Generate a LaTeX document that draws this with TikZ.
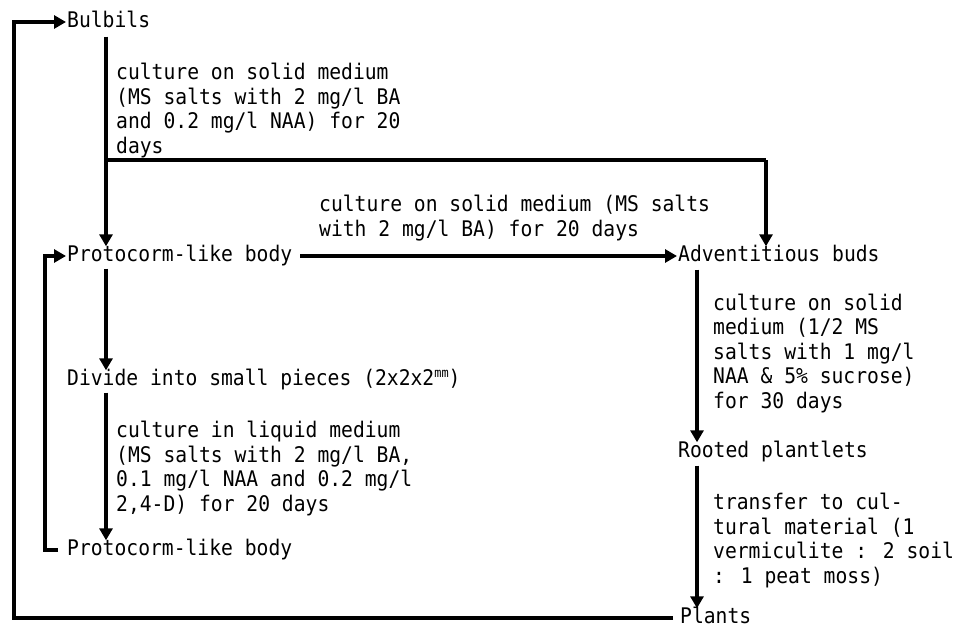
\documentclass[tikz,border=0pt]{standalone}
\usepackage{fontspec}
\newfontfamily\tw[FakeStretch=0.915]{DejaVu Sans Mono}
\usetikzlibrary{arrows.meta}
\begin{document}
\begin{tikzpicture}[x=1pt,y=-1pt,
  txt/.style={anchor=west, inner sep=0pt, text height=15pt, text depth=4pt,
    font=\tw\fontsize{21.5}{24.5}\selectfont},
  lbl/.style={anchor=base west, inner sep=0pt, align=left,
    font=\tw\fontsize{21.5}{24.5}\selectfont},
  conn/.style={line width=3.4pt},
  arr/.style={conn, -{Triangle[length=12pt,width=13pt]}}]
\useasboundingbox (0,0) rectangle (953,629);
% nodes (multi-line labels placed by the baseline of their last line)
\node[txt] (bulb) at (67,22) {Bulbils};
\node[lbl] (lab1) at (116,153) {culture on solid medium\\(MS salts with 2 mg/l BA\\and 0.2 mg/l NAA) for 20\\days};
\node[txt] (pcb1) at (67,256) {Protocorm-like body};
\node[lbl] (lab2) at (319,236) {culture on solid medium (MS salts\\with 2 mg/l BA) for 20 days};
\node[txt] (adv) at (678,256) {Adventitious buds};
\node[txt] (div) at (67,380) {Divide into small pieces (2x2x2\raisebox{0.7ex}{\fontsize{13}{13}\selectfont mm})};
\node[lbl] (lab3) at (116,511) {culture in liquid medium\\(MS salts with 2 mg/l BA,\\0.1 mg/l NAA and 0.2 mg/l\\2,4-D) for 20 days};
\node[txt] (pcb2) at (67,550) {Protocorm-like body};
\node[lbl] (lab4) at (713,408) {culture on solid\\medium (1/2 MS\\salts with 1 mg/l\\NAA \& 5\% sucrose)\\for 30 days};
\node[txt] (root) at (678,452) {Rooted plantlets};
\node[lbl] (lab5) at (713,583) {transfer to cul-\\tural material (1\\vermiculite : 2 soil\\: 1 peat moss)};
\node[txt] (plants) at (680,618) {Plants};
% coordinates
\coordinate (v1) at (106,160);
\coordinate (v2) at (766,160);
\coordinate (v3) at (697,300);
\coordinate (l1) at (45,400);
\coordinate (o1) at (14,22);
% connectors
\draw[arr] ([yshift=-5pt]bulb.south -| v1) -- (pcb1.north -| v1);
\draw[conn] (v1) -- (v2);
\draw[arr] (v2) -- (v2 |- adv.north);
\draw[arr] ([xshift=8pt]pcb1.east) -- ([xshift=-1pt]adv.west);
\draw[arr] ([yshift=-3pt]pcb1.south -| v1) -- (div.north -| v1);
\draw[arr] ([yshift=-3pt]div.south -| v1) -- (pcb2.north -| v1);
\draw[arr] ([xshift=-9pt]pcb2.west) -- (pcb2.west -| l1) -- (pcb1.west -| l1) -- ([xshift=-1pt]pcb1.west);
\draw[arr] ([yshift=-4pt]adv.south -| v3) -- (root.north -| v3);
\draw[arr] ([yshift=-4pt]root.south -| v3) -- (plants.north -| v3);
\draw[arr] ([xshift=-7pt]plants.west) -- (plants.west -| o1) -- (o1) -- ([xshift=-1pt]bulb.west);
\end{tikzpicture}
\end{document}
